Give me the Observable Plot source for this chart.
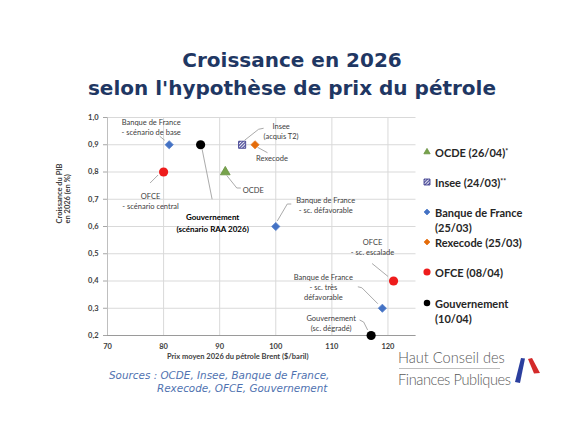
<!DOCTYPE html>
<html>
<head>
<meta charset="utf-8">
<script src="https://cdn.jsdelivr.net/npm/d3@7"></script>
<script src="https://cdn.jsdelivr.net/npm/@observablehq/plot@0.6"></script>
<style>
  body { margin: 0; background: #fff; }
  #root { position: relative; width: 580px; height: 435px; overflow: hidden; background: #fff; font-family: Lato, sans-serif; }
  #title { position: absolute; left: 2px; top: 46px; width: 580px; text-align: center; font-family: "DejaVu Sans", sans-serif; font-weight: bold; font-size: 20px; line-height: 28px; color: #1f3763; }
  #chart { position: absolute; left: 0; top: 105px; }
  .li { position: absolute; left: 421px; width: 150px; font-family: Lato, sans-serif; font-weight: bold; font-size: 11px; line-height: 15px; color: #262626; }
  .li svg { position: absolute; left: 0; top: 2.5px; }
  .li span { position: absolute; left: 14px; top: 0; width: 96px; }
  .li sup { font-size: 7px; vertical-align: 3px; line-height: 0; }
  .src { position: absolute; font-family: "DejaVu Sans", sans-serif; font-style: italic; font-size: 10.4px; line-height: 13px; color: #4f72b0; white-space: nowrap; }
  .logo { position: absolute; left: 398px; font-family: Lato, sans-serif; font-weight: 300; font-size: 14.6px; line-height: 20px; color: #595959; white-space: nowrap; }
</style>
</head>
<body>
<div id="root">
  <div id="title">Croissance en 2026<br>selon l'hypothèse de prix du pétrole</div>
  <div id="chart"></div>
  <div id="legend"></div>
  <div class="src" style="left:109px; top:369px;">Sources : OCDE, Insee, Banque de France,</div>
  <div class="src" style="left:157px; top:382px;">Rexecode, OFCE, Gouvernement</div>
  <div class="logo" style="top:348px;">Haut Conseil des</div>
  <div style="position:absolute; left:399px; top:368px; width:101px; height:1px; background:#bfbfbf;"></div>
  <div class="logo" style="top:370px; letter-spacing:-0.4px;">Finances Publiques</div>
  <svg style="position:absolute; left:508px; top:350px;" width="40" height="40">
    <polygon points="13,8 17,8.5 12,33 7,32" fill="#2b3f9e"/>
    <polygon points="20,9 24,8 32,23 26,23.5" fill="#d42a2a"/>
  </svg>
</div>
<script>
// ---------- data ----------
const xDomain = [70, 125];
const yDomain = [0.2, 1.0];
const xTickValues = [70, 80, 90, 100, 110, 120];
const yTickValues = [0.2, 0.3, 0.4, 0.5, 0.6, 0.7, 0.8, 0.9, 1.0];

const xLabel = "Prix moyen 2026 du pétrole Brent ($/baril)";
const yLabel = "Croissance du PIB\nen 2026 (en %)";

const legendNames = ["OCDE", "Insee", "Banque de France", "Rexecode", "OFCE", "Gouvernement"];
const legendDates = ["26/04", "24/03", "25/03", "25/03", "08/04", "10/04"];
const legendNotes = ["*", "**", "", "", "", ""];

const pointSource = ["Banque de France", "Gouvernement", "Insee", "Rexecode", "OFCE", "OCDE",
                     "Banque de France", "OFCE", "Banque de France", "Gouvernement"];
const pointLabel = ["Banque de France\n- scénario de base", "Gouvernement\n(scénario RAA 2026)",
                    "Insee\n(acquis T2)", "Rexecode", "OFCE\n- scénario central", "OCDE",
                    "Banque de France\n- sc. défavorable", "OFCE\n- sc. escalade",
                    "Banque de France\n- sc. très\ndéfavorable", "Gouvernement\n(sc. dégradé)"];
const brent  = [81, 86.6, 94, 96.3, 80, 91, 100, 121, 119, 117];
const growth = [0.9, 0.9, 0.9, 0.9, 0.8, 0.8, 0.6, 0.4, 0.3, 0.2];

// ---------- styles / layout ----------
const sourceStyle = {
  "OCDE":             {symbol: "triangle", r: 3.6, fill: "#77a34b", stroke: "#668f3e", legendSize: 17},
  "Insee":            {symbol: "square",   r: 4.0, fill: "url(#hatch)", stroke: "#2f2f86", legendSize: 36},
  "Banque de France": {symbol: "diamond2", r: 3.7, fill: "#4472c4", stroke: "#5580cc", legendSize: 23},
  "Rexecode":         {symbol: "diamond2", r: 3.7, fill: "#e46c0a", stroke: "#e87a22", legendSize: 23},
  "OFCE":             {symbol: "circle",   r: 4.6, fill: "#ee1c1c", stroke: "none", legendSize: 40},
  "Gouvernement":     {symbol: "circle",   r: 4.6, fill: "#000000", stroke: "none", legendSize: 33}
};
const d3Symbols = {triangle: d3.symbolTriangle, square: d3.symbolSquare, diamond2: d3.symbolDiamond2, circle: d3.symbolCircle};

// annotation offsets in pixels relative to each point
const annotations = [
  {i: 0, dx: -18, dy: -18, leader: [[-9, -8], [-4, -4]]},
  {i: 1, dx: 12, dy: 77, bold: true, leader: [[2, 5], [12, 55]]},
  {i: 2, dx: 39, dy: -14, leader: [[3, -4], [17, -15], [22, -16]]},
  {i: 3, dx: 17, dy: 13.5, leader: [[3, 3], [13, 8.5]]},
  {i: 4, dx: -13, dy: 28.5, leader: [[-13, 11.5], [-5, 3.5]]},
  {i: 5, dx: 17.5, dy: 17.5, anchor: "start", leader: [[2, 4], [12, 16.5], [16, 16.5]]},
  {i: 6, dx: 50, dy: -22, leader: [[2, -5], [12, -22], [16, -22]]},
  {i: 7, dx: -21, dy: -34.5, leader: [[-21, -17], [-5, -4]]},
  {i: 8, dx: -59, dy: -21, leader: [[-24, -21], [-20, -20], [-4, -4]]},
  {i: 9, dx: -40, dy: -13, leader: [[-11, -15], [-7, -13], [-3, -5]]}
];
const legendTop = [144.5, 174.5, 204.5, 234.5, 264.5, 295.5];

const fmt = d => d.toFixed(1).replace(".", ",");

function leaderMark(index, scales) {
  const g = d3.create("svg:g").attr("fill", "none").attr("stroke", "#a0a0a0").attr("stroke-width", 0.9);
  annotations.forEach(a => {
    const px = scales.x(brent[a.i]), py = scales.y(growth[a.i]);
    g.append("polyline").attr("points", a.leader.map(([dx, dy]) => `${px + dx},${py + dy}`).join(" "));
  });
  return g.node();
}

const idx = d3.range(brent.length);

const svg = Plot.plot({
  width: 440,
  height: 265,
  marginLeft: 107,
  marginRight: 24.5,
  marginTop: 12,
  marginBottom: 35,
  style: {fontFamily: "Lato, sans-serif", background: "white", overflow: "visible"},
  x: {domain: xDomain},
  y: {domain: yDomain},
  marks: [
    Plot.gridX(xTickValues, {stroke: "#d9d9d9", strokeOpacity: 1}),
    Plot.gridY(yTickValues, {stroke: "#d9d9d9", strokeOpacity: 1}),
    Plot.ruleX([xDomain[0]], {stroke: "#bfbfbf"}),
    Plot.ruleY([yDomain[0]], {stroke: "#9a9a9a"}),
    Plot.axisY(yTickValues, {tickFormat: fmt, tickSize: 4, tickPadding: 5, stroke: "#a6a6a6", fill: "#404040", fontSize: 7.5, fontWeight: "bold", label: null}),
    Plot.axisX(xTickValues, {tickSize: 0, tickPadding: 8, fill: "#404040", fontSize: 7.5, fontWeight: "bold", label: null}),
    Plot.text([yLabel], {frameAnchor: "left", dx: -44, dy: -3, rotate: -90, text: d => d, fontSize: 7.5, fontWeight: "bold", fill: "#404040", lineHeight: 1.1}),
    Plot.text([xLabel], {frameAnchor: "bottom", dx: -24, dy: 23, text: d => d, fontSize: 7.5, fontWeight: "bold", fill: "#404040"}),
    leaderMark,
    ...annotations.map(a => Plot.text([a.i], {
      x: i => brent[i], y: i => growth[i], text: i => pointLabel[i],
      dx: a.dx, dy: a.dy, textAnchor: a.anchor || "middle",
      fontSize: a.bold ? 8 : 7.5, fontWeight: a.bold ? "bold" : "normal",
      fill: a.bold ? "#000" : "#404040", lineHeight: a.bold ? 1.5 : 1.33
    })),
    ...legendNames.map(name => {
      const st = sourceStyle[name];
      return Plot.dot(idx.filter(i => pointSource[i] === name), {
        x: i => brent[i], y: i => growth[i],
        symbol: st.symbol, r: st.r, fill: st.fill, stroke: st.stroke, strokeWidth: 0.8
      });
    })
  ]
});

function addHatch(svgSel, id) {
  const p = svgSel.insert("defs", ":first-child").append("pattern")
    .attr("id", id).attr("patternUnits", "userSpaceOnUse")
    .attr("width", 2.2).attr("height", 2.2).attr("patternTransform", "rotate(45)");
  p.append("rect").attr("width", 2.2).attr("height", 2.2).attr("fill", "#ffffff");
  p.append("rect").attr("width", 1.1).attr("height", 2.2).attr("fill", "#34348c");
}
addHatch(d3.select(svg), "hatch");
document.getElementById("chart").appendChild(svg);

// legend
const legend = document.getElementById("legend");
legendNames.forEach((name, k) => {
  const st = sourceStyle[name];
  const item = document.createElement("div");
  item.className = "li";
  item.style.top = legendTop[k] + "px";
  const path = d3.symbol(d3Symbols[st.symbol], st.legendSize)();
  const fill = st.fill === "url(#hatch)" ? "url(#hatchL)" : st.fill;
  item.innerHTML = `<svg width="12" height="10" viewBox="-6 -5 12 10"><path d="${path}" fill="${fill}" stroke="${st.stroke}" stroke-width="0.8"/></svg>` +
    `<span>${name} (${legendDates[k]})${legendNotes[k] ? `<sup>${legendNotes[k]}</sup>` : ""}</span>`;
  legend.appendChild(item);
  if (st.fill === "url(#hatch)") addHatch(d3.select(item.querySelector("svg")), "hatchL");
});
</script>
</body>
</html>
